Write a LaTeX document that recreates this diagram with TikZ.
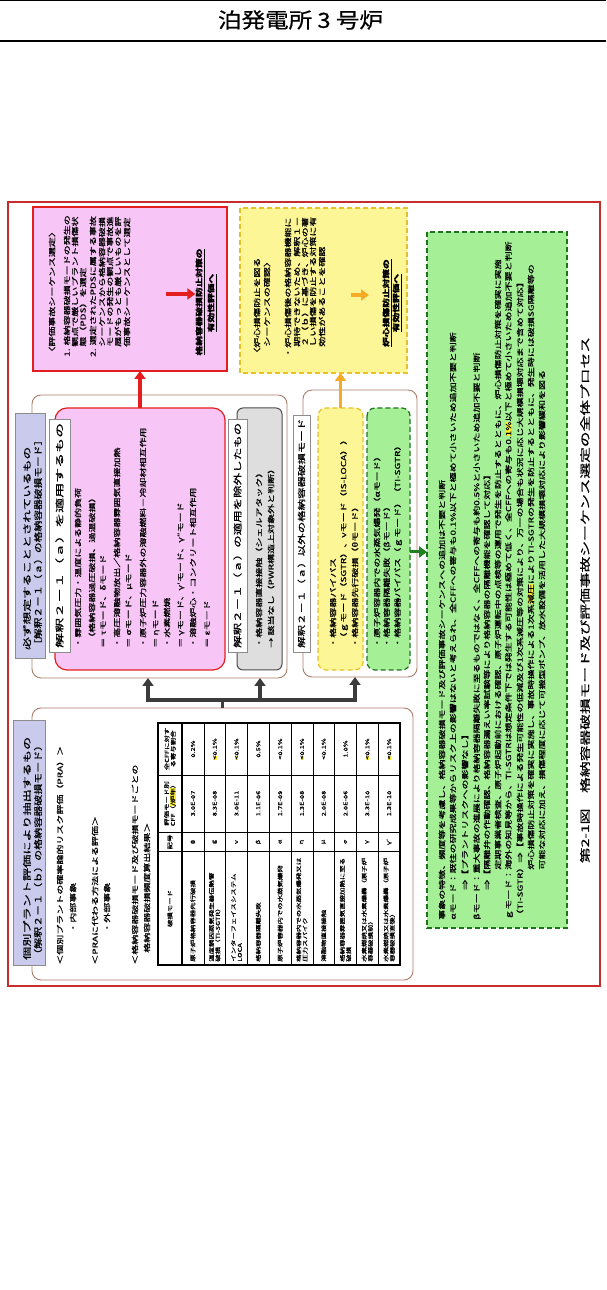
\documentclass[tikz,border=0pt]{standalone}
\usepackage{fontspec}
\usepackage{graphicx}
\setmainfont{Noto Sans CJK JP}[FakeBold=0.6]
\usetikzlibrary{arrows.meta,calc}
\newcommand{\fitw}[2]{\resizebox{#1}{\height}{#2}}
\newcommand{\hlt}[1]{{\setlength{\fboxsep}{0pt}\colorbox{hl}{#1}}}
\definecolor{frameRed}{RGB}{200,45,45}
\definecolor{boxRed}{RGB}{228,30,30}
\definecolor{pinkFill}{RGB}{248,198,246}
\definecolor{yelFill}{RGB}{252,246,150}
\definecolor{yelLine}{RGB}{232,192,40}
\definecolor{grnFill}{RGB}{165,240,150}
\definecolor{grnLine}{RGB}{30,115,30}
\definecolor{blueFill}{RGB}{202,202,236}
\definecolor{grpLine}{RGB}{170,125,105}
\definecolor{grayFill}{RGB}{222,222,222}
\definecolor{arrDark}{RGB}{60,60,60}
\definecolor{arrOrange}{RGB}{245,170,40}
\definecolor{arrGreen}{RGB}{30,130,30}
\definecolor{hl}{RGB}{255,238,50}
\tikzset{
  bx/.style={inner sep=0pt, outer sep=0pt, anchor=north west},
  grp/.style={bx, draw=grpLine, line width=0.9pt, rounded corners=9pt, fill=white},
  lbl/.style={bx, draw=black!45, line width=0.5pt, fill=white},
  tx/.style={inner sep=0pt, anchor=west, xscale=1.43, font=\fontsize{7}{8}\selectfont},
  ul/.style={inner sep=0pt, anchor=center, xscale=1.35, font=\bfseries\fontsize{7.2}{8}\selectfont},
  lt/.style={inner sep=0pt, anchor=west, font=\fontsize{8.5}{10}\selectfont},
  tb/.style={inner sep=0pt, xscale=1.4, font=\fontsize{5.3}{6.3}\selectfont, align=center},
  tbl/.style={inner sep=0pt, xscale=1.4, font=\fontsize{5.3}{6.3}\selectfont, align=left, anchor=west},
  arr/.style={line width=3.5pt, -{Triangle[width=11pt,length=8pt]}},
}
\begin{document}
\begin{tikzpicture}[x=1pt,y=1pt]
\useasboundingbox (0,0) rectangle (606,1290);
\fill[white] (0,0) rectangle (606,1290);
% page header
\node[inner sep=0pt, font=\fontsize{21}{22}\selectfont] (title) at (300.5,1270) {\fitw{165pt}{泊発電所 3 号炉}};
\draw[line width=0.7pt] (0,1289.4) -- (606,1289.4);
\draw[line width=2pt] (0,1249) -- (606,1249);
% frame
\draw[frameRed, line width=1.1pt] (8,304) rectangle (600,1088);

\begin{scope}[shift={(8pt,304pt)}, rotate=90, transform shape, x=1pt, y=-1pt]
% ---------- green box
\node[bx, draw=grnLine, fill=grnFill, line width=1.4pt, dash pattern=on 5pt off 3pt, minimum width=696pt, minimum height=140pt] (gbox) at (58,419) {};
% ---------- PRA block
\node[grp, minimum width=272pt, minimum height=381pt] (pra) at (6,24) {};
\node[bx, draw=black!45, fill=blueFill, line width=0.6pt, minimum width=245pt, minimum height=32pt] (hdr2) at (21,5) {};
\node[lt] (h2a) at (26,19) {\fitw{223pt}{個別プラント評価により抽出するもの}};
\node[lt] (h2b) at (26,30) {\fitw{220pt}{（解釈２－１（ｂ）の格納容器破損モード）}};
\node[tx] (p1) at (21,52) {＜個別プラントの確率論的リスク評価（PRA）＞};
\node[tx] (p2) at (53,65) {・内部事象};
\node[tx] (p3) at (21,87) {＜PRAに代わる方法による評価＞};
\node[tx] (p4) at (53,99) {・外部事象};
\node[tx] (p5) at (21,127) {＜格納容器破損モード及び破損モードごとの};
\node[tx] (p6) at (33,139) {格納容器破損頻度算出結果＞};
% table
\fill[white] (21,150) rectangle (263,392);
\foreach \k in {1,...,9} \draw[line width=0.5pt] (21,{174+21.8*\k}) -- (263,{174+21.8*\k});
\draw[line width=1pt] (134,150) -- (134,392);
\draw[line width=0.6pt] (154,150) -- (154,392);
\draw[line width=0.6pt] (211,150) -- (211,392);
\draw[line width=1.4pt] (21,174) -- (263,174);
\draw[line width=1.4pt] (21,150) rectangle (263,392);
\node[tb] (th1) at (77.5,162) {破損モード};
\node[tb] (th2) at (144,162) {記号};
\node[tb] (th3) at (182.5,162) {評価モード別\\CFF（\hlt{/炉年}）};
\node[tb] (th4) at (237,162) {全CFFに対す\\る寄与割合};
\foreach \i/\m/\s/\c/\p in {
 0/{原子炉格納容器先行破損}/θ/3.0E-07/{0.2\%},
 1/{温度誘因蒸気発生器伝熱管\\破損（TI-SGTR）}/g/8.3E-08/{\hlt{<}0.1\%},
 2/{インターフェイスシステム\\LOCA}/ν/3.0E-11/{\hlt{<}0.1\%},
 3/{格納容器隔離失敗}/β/1.1E-06/{0.5\%},
 4/{原子炉容器内での水蒸気爆発}/α/1.7E-09/{<0.1\%},
 5/{格納容器内での水蒸気爆発又は\\圧力スパイク}/η/1.3E-08/{\hlt{<}0.1\%},
 6/{溶融物直接接触}/μ/2.0E-08/{<0.1\%},
 7/{格納容器雰囲気直接加熱に至る\\破損}/σ/2.0E-06/{1.0\%},
 8/{水素燃焼又は水素爆轟（原子炉\\容器破損前）}/γ/3.3E-10/{\hlt{<}0.1\%},
 9/{水素燃焼又は水素爆轟（原子炉\\容器破損直後）}/γ′/1.3E-10/{\hlt{<}0.1\%}}{
 \pgfmathsetmacro\wc{174+21.8*(\i+0.5)}
 \node[tbl] (tm\i) at (24,\wc) {\m};
 \node[tb] (ts\i) at (144,\wc) {\s};
 \node[tb] (tc\i) at (182.5,\wc) {\c};
 \node[tb] (tp\i) at (237,\wc) {\p};
}
% ---------- group 1 : 必ず想定する
\node[grp, minimum width=283pt, minimum height=255pt] (grp1) at (308,24) {};
\node[bx, draw=boxRed, line width=1.2pt, fill=pinkFill, rounded corners=12pt, minimum width=262pt, minimum height=170pt] (pink) at (316,47) {};
\node[bx, draw=black!70, line width=1pt, fill=grayFill, rounded corners=6pt, minimum width=262pt, minimum height=45pt] (gray) at (316,229) {};
\node[bx, draw=black!45, fill=blueFill, line width=0.6pt, minimum width=245pt, minimum height=30pt] (hdr1) at (328,7) {};
\node[lt] (h1a) at (336,19) {\fitw{203pt}{必ず想定することとされているもの}};
\node[lt] (h1b) at (336,30) {\fitw{215pt}{［解釈２－１（ａ）の格納容器破損モード］}};
\node[lbl, minimum width=233pt, minimum height=21pt] (lab1) at (334,41) {};
\node[lt] (l1) at (338,51.5) {\fitw{225pt}{解釈２－１（ａ）を適用するもの}};
\node[lbl, minimum width=233pt, minimum height=19pt] (lab2) at (334,220) {};
\node[lt] (l2) at (338,229.5) {\fitw{225pt}{解釈２－１（ａ）の適用を除外したもの}};
\node[tx] (k1) at (338,70) {・雰囲気圧力・温度による静的負荷};
\node[tx] (k2) at (343,84) {（格納容器過圧破損、過温破損）};
\node[tx] (k3) at (338,95) {＝ τモード、δモード};
\node[tx] (k4) at (338,109) {・高圧溶融物放出／格納容器雰囲気直接加熱};
\node[tx] (k5) at (338,121) {＝ σモード、μモード};
\node[tx] (k6) at (338,135) {・原子炉圧力容器外の溶融燃料－冷却材相互作用};
\node[tx] (k7) at (338,148) {＝ ηモード};
\node[tx] (k8) at (338,159) {・水素燃焼};
\node[tx] (k9) at (338,173) {＝ γモード、γ′モード、γ″モード};
\node[tx] (k10) at (338,185) {・溶融炉心・コンクリート相互作用};
\node[tx] (k11) at (338,199) {＝ εモード};
\node[tx] (g1) at (338,251) {・格納容器直接接触（シェルアタック）};
\node[tx] (g2) at (338,263) {→ 該当なし（PWR構造上対象外と判断）};
% ---------- group 2 : 解釈2-1(a)以外
\node[grp, minimum width=287pt, minimum height=114pt] (grp2) at (309,295) {};
\node[bx, draw=yelLine, fill=yelFill, line width=1.2pt, dash pattern=on 5pt off 3pt, rounded corners=8pt, minimum width=262pt, minimum height=45pt] (yin) at (316,310) {};
\node[bx, draw=grnLine, fill=grnFill, line width=1.2pt, dash pattern=on 5pt off 3pt, rounded corners=8pt, minimum width=262pt, minimum height=43pt] (gin) at (316,359) {};
\node[lbl, minimum width=237pt, minimum height=17pt] (lab3) at (334,285) {};
\node[lt, font=\fontsize{8}{9}\selectfont] (l3) at (338,293.5) {\fitw{229pt}{解釈２－１（ａ）以外の格納容器破損モード}};
\node[tx] (y1) at (338,325) {・格納容器バイパス};
\node[tx] (y2) at (343,336) {（ｇモード（SGTR）、νモード（IS-LOCA））};
\node[tx] (y3) at (338,347) {・格納容器先行破損（θモード）};
\node[tx] (q1) at (338,369) {・原子炉容器内での水蒸気爆発（αモード）};
\node[tx] (q2) at (338,379) {・格納容器隔離失敗（βモード）};
\node[tx] (q3) at (338,390) {・格納容器バイパス（ｇモード）（TI-SGTR）};
% ---------- red box
\node[bx, draw=boxRed, line width=1.5pt, fill=pinkFill, minimum width=164pt, minimum height=194pt] (rbox) at (615,25) {};
\node[tx] (r1) at (629,44) {〈評価事故シーケンス選定〉};
\node[tx] (r2) at (629,59) {1. 格納容器破損モードの発生の};
\node[tx] (r3) at (639,67) {観点で厳しいプラント損傷状};
\node[tx] (r4) at (639,75) {態（PDS）を選定};
\node[tx] (r5) at (629,85) {2. 選定されたPDSに属する事故};
\node[tx] (r6) at (639,94) {シーケンスから格納容器破損};
\node[tx] (r7) at (639,102) {モードの発生の観点で事故進};
\node[tx] (r8) at (639,110) {展がもっとも厳しいものを評};
\node[tx] (r9) at (639,119) {価事故シーケンスとして選定};
\node[ul] (rt1) at (684,192) {\underline{格納容器破損防止対策の}};
\node[ul] (rt2) at (683,204) {\underline{有効性評価へ}};
\coordinate (ra1) at (692,158);
\draw[arr, boxRed] (ra1) -- (rt1.north -| ra1);
% ---------- yellow box
\node[bx, draw=yelLine, fill=yelFill, line width=1.3pt, dash pattern=on 5pt off 3pt, minimum width=165pt, minimum height=167pt] (ybox) at (613,232) {};
\node[tx] (s1) at (628,249) {〈炉心損傷防止を図る};
\node[tx] (s2) at (639,259) {シーケンスの確認〉};
\node[tx] (s3) at (628,280) {・炉心損傷後の格納容器機能に};
\node[tx] (s4) at (639,289) {期待できないため、解釈１－};
\node[tx] (s5) at (639,297) {２（ｂ）に基づき、炉心の著};
\node[tx] (s6) at (639,305) {しい損傷を防止する対策に有};
\node[tx] (s7) at (639,314) {効性があることを確認};
\node[ul] (yt1) at (683,379) {\underline{炉心損傷防止対策の}};
\node[ul] (yt2) at (683,389) {\underline{有効性評価へ}};
\coordinate (ya1) at (691,343);
\coordinate (ya2) at (691,361);
\draw[arr, arrOrange] (ya1) -- (ya2);
% ---------- green box texts
\node[tx] (e1) at (66,434) {事象の特徴、頻度等を考慮し、格納容器破損モード及び評価事故シーケンスへの追加は不要と判断};
\node[tx] (e2) at (66,445) {αモード：既往の研究成果等からリスク上の影響はないと考えられ、全CFFへの寄与も0.1\%以下と極めて小さいため追加不要と判断};
\node[tx] (e3) at (66,457) {　　　⇒【プラントリスクへの影響なし】};
\node[tx] (e4) at (66,469) {βモード：重大事故の進展により格納容器隔離失敗に至るものではなく、全CFFへの寄与も約0.5\%と小さいため追加不要と判断};
\node[tx] (e5) at (66,479) {　　　⇒【隔離弁の作動確認、格納容器漏えい率試験等により格納容器の隔離機能を確認して対応】};
\node[tx] (e6) at (66,490) {　　　　　定期事業者検査、原子炉起動前における確認、原子炉運転中の点検等の運用で発生を防止するとともに、炉心損傷防止対策を確実に実施};
\node[tx] (e7) at (66,501) {ｇモード：海外の知見等から、TI-SGTRは想定条件下では発生する可能性は極めて低く、全CFFへの寄与も0.\hlt{1\%}以下と極めて小さいため追加不要と判断};
\node[tx] (e8) at (66,512) {（TI-SGTR）⇒【事故時操作による発生可能性の低減及び1次系減圧等の対策により、万一の場合も状況に応じ大規模損壊対応まで含めて対応】};
\node[tx] (e9) at (66,523) {　　　　　炉心損傷防止対策を確実に実施し、事故時操作による1次系\hlt{減圧}によりTI-SGTRの発生を防止するとともに、発生時には破損SG隔離等の};
\node[tx] (e10) at (66,534) {　　　　　可能な対応に加え、損傷程度に応じて可搬型ポンプ、放水設備を活用した大規模損壊対応により影響緩和を図る};
% ---------- caption
\node[inner sep=0pt, xscale=1.5, font=\fontsize{10.5}{12}\selectfont] (cap) at (386,577) {第2-1図　格納容器破損モード及び評価事故シーケンス選定の全体プロセス};
% ---------- connectors  (inside this rotated scope: (a -| b) = (u of b, w of a))
\draw[arr, boxRed] (pink.east) -- (pink.east -| rbox.west);
\draw[arr, arrOrange] (yin.east) -- (yin.east -| ybox.west);
\coordinate (ga) at (434,402);
\draw[arr, arrGreen, line width=3pt] (gin.south -| ga) -- (gbox.north -| ga);
\coordinate (bj) at (286,214.5);
\coordinate (b1) at (286,140);
\coordinate (b2) at (286,252);
\coordinate (b3) at (286,347);
\draw[arrDark, line width=3.2pt] (pra.east) -- (bj);
\draw[arrDark, line width=3.2pt, line cap=rect] (b1) -- (b3);
\draw[arr, arrDark, line width=3.2pt] (b1) -- (b1 -| grp1.west);
\draw[arr, arrDark, line width=3.2pt] (b2) -- (b2 -| grp1.west);
\draw[arr, arrDark, line width=3.2pt] (b3) -- (b3 -| grp2.west);
\end{scope}
\end{tikzpicture}
\end{document}
